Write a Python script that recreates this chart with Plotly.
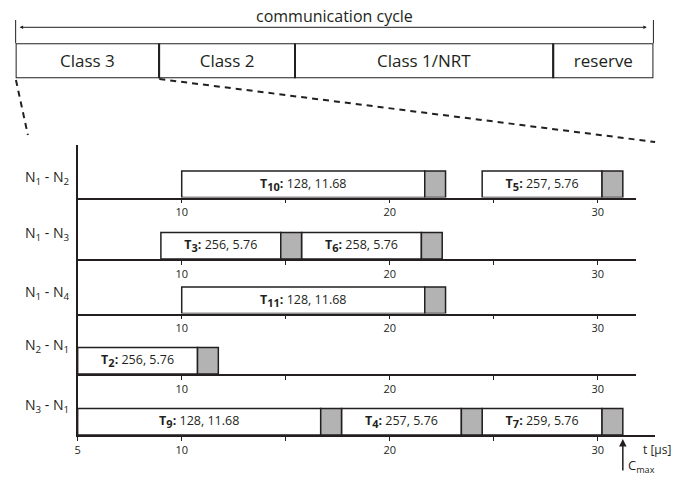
import numpy as np
import plotly.graph_objects as go

# ---------------- data ----------------
row_labels = ["N<sub>1</sub> - N<sub>2</sub>", "N<sub>1</sub> - N<sub>3</sub>",
              "N<sub>1</sub> - N<sub>4</sub>", "N<sub>2</sub> - N<sub>1</sub>",
              "N<sub>3</sub> - N<sub>1</sub>"]
tx_names = ["10", "5", "3", "6", "11", "2", "9", "4", "7"]
tx_row = [0, 0, 1, 1, 2, 3, 4, 4, 4]
tx_start = [10.0, 24.44, 9.0, 15.76, 10.0, 5.0, 5.0, 17.68, 24.44]
tx_id = [128, 257, 256, 258, 128, 256, 128, 257, 259]
tx_dur = [11.68, 5.76, 5.76, 5.76, 11.68, 5.76, 11.68, 5.76, 5.76]
gap_dur = [1.0] * 9
cycle_parts = ["Class 3", "Class 2", "Class 1/NRT", "reserve"]
cycle_share = [22.5, 21.3, 40.5, 15.7]
x_tick_vals = [5, 10, 15, 20, 25, 30]
x_tick_text_rows = ["", "10", "", "20", "", "30"]
x_tick_text_last = ["5", "10", "", "20", "", "30"]
c_max = 31.2

# ---------------- styles / geometry ----------------
W, H = 680, 479
INK = "#231f20"
GRAY = "#b3b3b3"
FONT = "Open Sans"
PX_PER_US = 20.9
X0_PX = 75
ROW_TOP = [145, 197.5, 259, 313.5, 374]
ROW_AXIS = [197.5, 259, 313.5, 374, 435]
LABEL_PX = [177, 233, 292, 345, 405]
BAR_PX = 26.5


def px(x):
    return x / W


def py(y):
    return 1 - y / H


fig = go.Figure()

# top communication cycle bar
bases = np.concatenate([[0], np.cumsum(cycle_share)[:-1]])
fig.add_trace(go.Bar(
    x=cycle_share, base=bases, y=[0] * len(cycle_share), orientation="h", width=1,
    marker=dict(color="white", line=dict(color=INK, width=2)),
    text=cycle_parts, textposition="inside", insidetextanchor="middle",
    textfont=dict(size=17, color=INK, family=FONT), constraintext="none",
    cliponaxis=False, hoverinfo="skip", xaxis="x", yaxis="y", showlegend=False))

layout_axes = {
    "xaxis": dict(domain=[px(12.7), px(653.3)], range=[0, 100], visible=False, fixedrange=True),
    "yaxis": dict(domain=[py(78.3), py(43.3)], range=[-0.5, 0.5], visible=False, fixedrange=True),
}

for i in range(5):
    k = i + 2
    idx = [j for j in range(len(tx_names)) if tx_row[j] == i]
    starts = [tx_start[j] for j in idx]
    durs = [tx_dur[j] for j in idx]
    texts = [f"<b>T<sub><span style='font-size:11px'>{tx_names[j]}</span></sub>:</b> "
             f"{tx_id[j]}, {tx_dur[j]:.2f}" for j in idx]
    fig.add_trace(go.Bar(
        x=durs, base=starts, y=[0.5] * len(idx), orientation="h", width=1,
        marker=dict(color="white", line=dict(color=INK, width=1.5)),
        text=texts, textposition="inside", insidetextanchor="middle",
        textfont=dict(size=12.5, color=INK, family=FONT), constraintext="none",
        cliponaxis=False, hoverinfo="skip", xaxis=f"x{k}", yaxis=f"y{k}", showlegend=False))
    fig.add_trace(go.Bar(
        x=[gap_dur[j] for j in idx], base=[tx_start[j] + tx_dur[j] for j in idx],
        y=[0.5] * len(idx), orientation="h", width=1,
        marker=dict(color=GRAY, line=dict(color=INK, width=1.5)),
        cliponaxis=False, hoverinfo="skip", xaxis=f"x{k}", yaxis=f"y{k}", showlegend=False))

    right_px = 655 if i == 4 else 635.7
    layout_axes[f"xaxis{k}"] = dict(
        domain=[px(X0_PX), px(right_px)],
        range=[5, 5 + (right_px - X0_PX) / PX_PER_US], anchor=f"y{k}",
        tickvals=x_tick_vals,
        ticktext=x_tick_text_last if i == 4 else x_tick_text_rows,
        ticks="outside", ticklen=4, tickwidth=1.3, tickcolor=INK,
        showline=True, linewidth=1.5, linecolor=INK,
        showgrid=False, zeroline=False, fixedrange=True,
        tickfont=dict(size=11, color=INK, family=FONT))
    h_px = ROW_AXIS[i] - ROW_TOP[i]
    layout_axes[f"yaxis{k}"] = dict(
        domain=[py(ROW_AXIS[i]), py(ROW_TOP[i])],
        range=[0, h_px / BAR_PX], anchor=f"x{k}",
        showline=True, linewidth=1.5, linecolor=INK,
        tickvals=[(ROW_AXIS[i] - LABEL_PX[i]) / BAR_PX], ticktext=[row_labels[i]],
        ticks="", ticklabelstandoff=4,
        showgrid=False, zeroline=False, fixedrange=True,
        tickfont=dict(size=14, color=INK, family=FONT))

shapes = [
    dict(type="line", xref="paper", yref="paper", x0=px(12.7), x1=px(12.7), y0=py(20), y1=py(43.3),
         line=dict(color=INK, width=1)),
    dict(type="line", xref="paper", yref="paper", x0=px(653.3), x1=px(653.3), y0=py(20), y1=py(43.3),
         line=dict(color=INK, width=1)),
    dict(type="line", xref="paper", yref="paper", x0=px(13), x1=px(25), y0=py(80), y1=py(135),
         line=dict(color=INK, width=2, dash="6px,5px")),
    dict(type="line", xref="paper", yref="paper", x0=px(157), x1=px(655), y0=py(79), y1=py(142),
         line=dict(color=INK, width=2, dash="6px,5px")),
]

annotations = [
    dict(xref="paper", yref="paper", x=px(646.7), y=py(27.3), ax=-(646.7 - 18), ay=0,
         text="", showarrow=True, arrowside="end+start", arrowhead=2, startarrowhead=2,
         arrowsize=0.7, startarrowsize=0.7, arrowwidth=1, arrowcolor=INK),
    dict(xref="paper", yref="paper", x=px(333), y=py(16), xanchor="center", yanchor="middle",
         text="communication cycle",
         showarrow=False, font=dict(size=16, color=INK, family=FONT)),
    dict(xref="x6", yref="paper", x=c_max, y=py(439), ax=0, ay=33, text="",
         showarrow=True, arrowhead=2, arrowsize=1, arrowwidth=1.5, arrowcolor=INK),
    dict(xref="paper", yref="paper", x=px(626), y=py(466), xanchor="left", yanchor="middle",
         text="C<sub>max</sub>", showarrow=False, font=dict(size=13, color=INK, family=FONT)),
    dict(xref="paper", yref="paper", x=px(641), y=py(449), xanchor="left", yanchor="middle",
         text="t [µs]", showarrow=False, font=dict(size=12, color=INK, family=FONT)),
]

fig.update_layout(
    width=W, height=H, margin=dict(l=0, r=0, t=0, b=0),
    paper_bgcolor="white", plot_bgcolor="white", barmode="overlay",
    font=dict(family=FONT, color=INK), shapes=shapes, annotations=annotations,
    **layout_axes)

fig.write_html("out.html", config={"displayModeBar": False},
               post_script="document.body.style.margin='0';document.body.style.padding='0';")
